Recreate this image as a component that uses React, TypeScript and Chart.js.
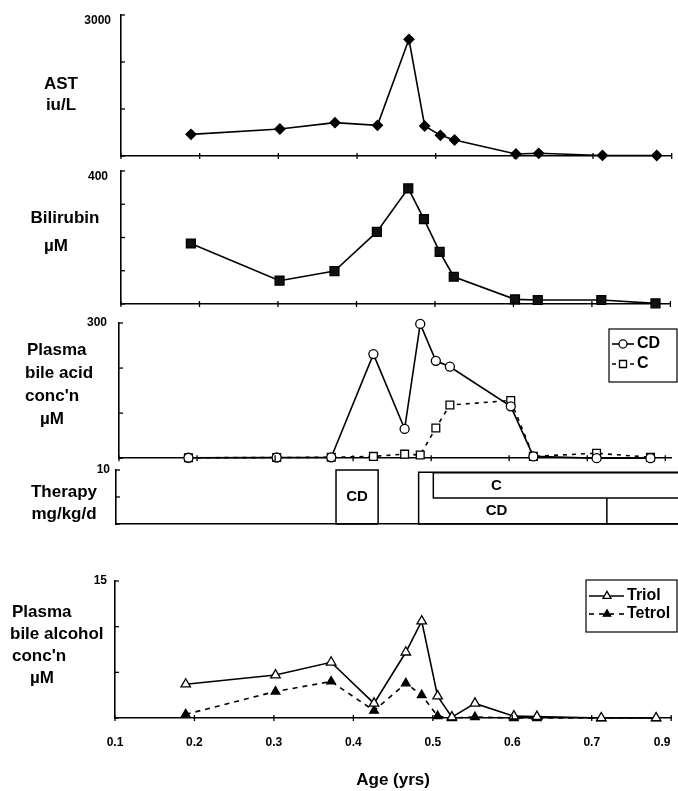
import React, { useEffect, useRef } from "react";
import { Chart, registerables } from "chart.js";

Chart.register(...registerables);

// ---------------- data ----------------
const xTickValues = [0.1, 0.2, 0.3, 0.4, 0.5, 0.6, 0.7, 0.8];
const xTickLabels = ["0.1", "0.2", "0.3", "0.4", "0.5", "0.6", "0.7", "0.9"];

const labAges = [0.189, 0.302, 0.372, 0.426, 0.466, 0.486, 0.506, 0.524, 0.602, 0.631, 0.712, 0.781];
const astValues = [461, 574, 709, 652, 2482, 638, 440, 340, 43, 57, 12, 10];
const bilirubinValues = [182, 70, 99, 217, 348, 255, 157, 82, 14, 12, 12, 2];
const bileAcidCD = [1, 1.5, 2, 231, 65, 298, 216, 203, 115, 4, 0, 0];
const bileAcidC = [1, 1.5, 2, 4, 9, 7, 67, 118, 128, 4, 11, 2];

const alcoholAges = [0.189, 0.302, 0.372, 0.426, 0.466, 0.486, 0.506, 0.524, 0.553, 0.602, 0.631, 0.712, 0.781];
const triolValues = [3.7, 4.7, 6.1, 1.6, 7.2, 10.6, 2.4, 0.1, 1.6, 0.2, 0.15, 0, 0];
const tetrolValues = [0.4, 2.9, 4.0, 0.8, 3.8, 2.5, 0.2, 0, 0.1, 0, 0, 0, 0];

const therapyDrug = ["CD", "CD", "C"];
const therapyStart = [0.377, 0.481, 0.4995];
const therapyEnd = [0.43, 0.812, 0.812];
const therapyLow = [0, 0, 4.8];
const therapyHigh = [10, 9.6, 9.5];
const therapyLabelAge = [0.4035, 0.579, 0.579];
const therapyLabelDose = [5, 2.4, 7.15];
const cdDoseChangeAge = 0.718;

// ---------------- styles ----------------
const FAMILY = "'Liberation Sans', Arial, Helvetica, sans-serif";
const LABEL_FONT = `bold 17px ${FAMILY}`;
const LEGEND_FONT = `bold 16px ${FAMILY}`;
const BOX_FONT = `bold 15px ${FAMILY}`;
const PAGE_W = 678;
const Y_AXIS_W = 60;

type TextLine = { text: string; x: number; y: number; align: CanvasTextAlign };
type Panel = {
  top: number;
  height: number;
  axisX: number;
  plotTop: number;
  plotBottom: number;
  rightEdge: number;
  xMax: number;
  yMax: number;
  yStep: number;
  yLabelOffset: number;
  yLabelPad: number;
  xTicks: boolean;
  xLabels: boolean;
  labels: TextLine[];
  legend?: { box: number[]; itemY: number[]; lineX: number[]; markerX: number; textX: number };
  therapy?: boolean;
  datasets: any[];
};

const pts = (xs: number[], ys: number[]) => xs.map((x, i) => ({ x, y: ys[i] }));

const therapyDatasets = () => {
  const ds: any[] = therapyDrug.map((drug, i) => ({
    label: drug,
    data: [
      { x: therapyEnd[i], y: therapyLow[i] },
      { x: therapyStart[i], y: therapyLow[i] },
      { x: therapyStart[i], y: therapyHigh[i] },
      { x: therapyEnd[i], y: therapyHigh[i] },
      { x: therapyEnd[i], y: therapyLow[i] },
    ],
    borderColor: "#000",
    borderWidth: 1.5,
    pointRadius: 0,
    clip: false,
    tension: 0,
  }));
  ds.push({
    label: "CD dose change",
    data: [
      { x: cdDoseChangeAge, y: 0 },
      { x: cdDoseChangeAge, y: therapyLow[2] },
    ],
    borderColor: "#000",
    borderWidth: 1.5,
    pointRadius: 0,
    clip: false,
  });
  return ds;
};

const lineStyle = { borderColor: "#000", borderWidth: 1.6, clip: false, tension: 0, pointBorderColor: "#000", pointBorderWidth: 1.3 };

const panels: Panel[] = [
  {
    top: 0, height: 163, axisX: 121, plotTop: 15, plotBottom: 156, rightEdge: 672, xMax: 0.8,
    yMax: 3000, yStep: 1000, yLabelOffset: 6, yLabelPad: 10, xTicks: true, xLabels: false,
    labels: [
      { text: "AST", x: 61, y: 84, align: "center" },
      { text: "iu/L", x: 61, y: 105, align: "center" },
    ],
    datasets: [
      { ...lineStyle, label: "AST", data: pts(labAges, astValues), pointStyle: "rectRot", pointRadius: 5, pointBackgroundColor: "#000" },
    ],
  },
  {
    top: 163, height: 149, axisX: 121, plotTop: 171, plotBottom: 304, rightEdge: 672, xMax: 0.8,
    yMax: 400, yStep: 100, yLabelOffset: 6, yLabelPad: 13, xTicks: true, xLabels: false,
    labels: [
      { text: "Bilirubin", x: 65, y: 218, align: "center" },
      { text: "µM", x: 56, y: 246, align: "center" },
    ],
    datasets: [
      { ...lineStyle, label: "Bilirubin", data: pts(labAges, bilirubinValues), pointStyle: "rect", pointRadius: 6.3, pointBackgroundColor: "#111" },
    ],
  },
  {
    top: 312, height: 153, axisX: 119, plotTop: 323, plotBottom: 459, rightEdge: 678, xMax: 0.8,
    yMax: 300, yStep: 100, yLabelOffset: 0, yLabelPad: 12, xTicks: true, xLabels: false,
    labels: [
      { text: "Plasma", x: 27, y: 350, align: "left" },
      { text: "bile acid", x: 25, y: 373, align: "left" },
      { text: "conc'n", x: 25, y: 396, align: "left" },
      { text: "µM", x: 40, y: 419, align: "left" },
    ],
    legend: { box: [609, 329, 677, 382], itemY: [344, 364], lineX: [612, 634], markerX: 623, textX: 637 },
    datasets: [
      { ...lineStyle, label: "CD", data: pts(labAges, bileAcidCD), pointStyle: "circle", pointRadius: 4.5, pointBackgroundColor: "#fff" },
      { ...lineStyle, label: "C", data: pts(labAges, bileAcidC), borderDash: [4, 5], pointStyle: "rect", pointRadius: 5.5, pointBackgroundColor: "#fff" },
    ],
  },
  {
    top: 455, height: 85, axisX: 116, plotTop: 470, plotBottom: 524, rightEdge: 678, xMax: 0.8,
    yMax: 10, yStep: 5, yLabelOffset: 0, yLabelPad: 6, xTicks: false, xLabels: false,
    labels: [
      { text: "Therapy", x: 64, y: 492, align: "center" },
      { text: "mg/kg/d", x: 64, y: 514, align: "center" },
    ],
    therapy: true,
    datasets: therapyDatasets(),
  },
  {
    top: 540, height: 251, axisX: 115, plotTop: 581, plotBottom: 718, rightEdge: 672, xMax: 0.8,
    yMax: 15, yStep: 5, yLabelOffset: 0, yLabelPad: 8, xTicks: true, xLabels: true,
    labels: [
      { text: "Plasma", x: 12, y: 612, align: "left" },
      { text: "bile alcohol", x: 10, y: 634, align: "left" },
      { text: "conc'n", x: 12, y: 656, align: "left" },
      { text: "µM", x: 30, y: 678, align: "left" },
    ],
    legend: { box: [586, 580, 677, 632], itemY: [596, 614], lineX: [589, 624], markerX: 607, textX: 627 },
    datasets: [
      { ...lineStyle, label: "Triol", data: pts(alcoholAges, triolValues), pointStyle: "triangle", pointRadius: 5.5, pointBackgroundColor: "#fff" },
      { ...lineStyle, label: "Tetrol", data: pts(alcoholAges, tetrolValues), borderDash: [5, 5], pointStyle: "triangle", pointRadius: 5, pointBackgroundColor: "#000" },
    ],
  },
];

function drawMarker(ctx: CanvasRenderingContext2D, style: string, x: number, y: number, r: number, fill: string) {
  ctx.save();
  ctx.setLineDash([]);
  ctx.beginPath();
  if (style === "circle") {
    ctx.arc(x, y, r, 0, Math.PI * 2);
  } else if (style === "rect") {
    const s = Math.SQRT1_2 * r;
    ctx.rect(x - s, y - s, 2 * s, 2 * s);
  } else if (style === "triangle") {
    ctx.moveTo(x, y - r);
    ctx.lineTo(x + r * 0.866, y + r * 0.5);
    ctx.lineTo(x - r * 0.866, y + r * 0.5);
    ctx.closePath();
  } else {
    ctx.moveTo(x, y - r);
    ctx.lineTo(x + r, y);
    ctx.lineTo(x, y + r);
    ctx.lineTo(x - r, y);
    ctx.closePath();
  }
  ctx.fillStyle = fill;
  ctx.fill();
  ctx.lineWidth = 1.3;
  ctx.strokeStyle = "#000";
  ctx.stroke();
  ctx.restore();
}

function makeDecor(p: Panel) {
  return {
    id: "decor",
    afterDraw(chart: any) {
      const ctx: CanvasRenderingContext2D = chart.ctx;
      const xs = chart.scales.x;
      const ys = chart.scales.y;
      const area = chart.chartArea;
      ctx.save();
      ctx.strokeStyle = "#000";
      ctx.fillStyle = "#000";
      ctx.lineWidth = 1.3;
      // inside y tick marks
      for (let v = 0; v <= p.yMax + 1e-9; v += p.yStep) {
        const y = ys.getPixelForValue(v);
        ctx.beginPath();
        ctx.moveTo(area.left, y);
        ctx.lineTo(area.left + 4, y);
        ctx.stroke();
      }
      // x tick marks crossing the axis
      if (p.xTicks) {
        for (const t of xTickValues) {
          const x = xs.getPixelForValue(t);
          ctx.beginPath();
          ctx.moveTo(x, area.bottom - 3);
          ctx.lineTo(x, area.bottom + 3);
          ctx.stroke();
        }
      }
      // left-hand panel titles
      ctx.font = LABEL_FONT;
      ctx.textBaseline = "middle";
      for (const l of p.labels) {
        ctx.textAlign = l.align;
        ctx.fillText(l.text, l.x, l.y - p.top);
      }
      // therapy box labels
      if (p.therapy) {
        ctx.font = BOX_FONT;
        ctx.textAlign = "center";
        therapyDrug.forEach((d, i) => {
          ctx.fillText(d, xs.getPixelForValue(therapyLabelAge[i]), ys.getPixelForValue(therapyLabelDose[i]));
        });
      }
      // legend
      if (p.legend) {
        const lg = p.legend;
        const [x1, y1, x2, y2] = lg.box;
        ctx.lineWidth = 1.2;
        ctx.strokeRect(x1, y1 - p.top, x2 - x1, y2 - y1);
        chart.data.datasets.forEach((ds: any, i: number) => {
          const y = lg.itemY[i] - p.top;
          ctx.save();
          ctx.lineWidth = 1.6;
          ctx.setLineDash(ds.borderDash || []);
          ctx.beginPath();
          ctx.moveTo(lg.lineX[0], y);
          ctx.lineTo(lg.lineX[1], y);
          ctx.stroke();
          ctx.restore();
          drawMarker(ctx, ds.pointStyle, lg.markerX, y, ds.pointRadius * (ds.pointStyle === "triangle" ? 0.85 : 0.9), ds.pointBackgroundColor);
          ctx.font = LEGEND_FONT;
          ctx.textAlign = "left";
          ctx.textBaseline = "middle";
          ctx.fillStyle = "#000";
          ctx.fillText(ds.label, lg.textX, y);
        });
      }
      ctx.restore();
    },
  };
}

function buildConfig(p: Panel): any {
  const perTenth = (p.rightEdge === 678 ? 672 - p.axisX : p.rightEdge - p.axisX) / 7;
  const xMax = p.rightEdge === 678 ? p.xMax + ((678 - 672) / perTenth) * 0.1 : p.xMax;
  const canvasBottom = p.top + p.height;
  const xScaleH = p.xLabels ? canvasBottom - p.plotBottom : 0;
  return {
    type: "line",
    data: { datasets: p.datasets },
    options: {
      animation: false,
      responsive: false,
      devicePixelRatio: 1,
      events: [],
      layout: {
        padding: {
          left: p.axisX - Y_AXIS_W,
          right: PAGE_W - (p.rightEdge === 678 ? 678 : p.rightEdge),
          top: p.plotTop - p.top,
          bottom: canvasBottom - p.plotBottom - xScaleH,
        },
      },
      plugins: { legend: { display: false }, tooltip: { enabled: false }, title: { display: false } },
      scales: {
        x: {
          type: "linear",
          min: 0.1,
          max: xMax,
          grid: { display: false, drawTicks: false, tickLength: 0 },
          border: { display: true, color: "#000", width: 1.6 },
          ticks: {
            display: p.xLabels,
            stepSize: 0.1,
            autoSkip: false,
            maxRotation: 0,
            padding: 17,
            color: "#000",
            font: { family: FAMILY, size: 12, weight: "bold" },
            callback: (v: number) => {
              const i = xTickValues.findIndex((t) => Math.abs(t - v) < 1e-6);
              if (i < 0) return "";
              // the last label sits just inside the axis end in the original
              return i === xTickLabels.length - 1 ? xTickLabels[i] + "\u2002\u2002\u2002" : xTickLabels[i];
            },
          },
          title: {
            display: p.xLabels,
            text: "Age (yrs)",
            color: "#000",
            font: { family: FAMILY, size: 17, weight: "bold" },
            padding: { top: 0, bottom: 0 },
          },
          afterFit: (s: any) => {
            s.height = xScaleH;
            s.paddingLeft = 0;
            s.paddingRight = 0;
          },
        },
        y: {
          type: "linear",
          min: 0,
          max: p.yMax,
          grid: { display: false, drawTicks: false, tickLength: 0 },
          border: { display: true, color: "#000", width: 1.6 },
          ticks: {
            stepSize: p.yStep,
            padding: p.yLabelPad,
            labelOffset: p.yLabelOffset,
            color: "#000",
            font: { family: FAMILY, size: 12, weight: "bold" },
            callback: (v: number) => (Math.abs(v - p.yMax) < 1e-9 ? String(p.yMax) : ""),
          },
          afterFit: (s: any) => {
            s.width = Y_AXIS_W;
            s.paddingTop = 0;
            s.paddingBottom = 0;
          },
        },
      },
    },
    plugins: [makeDecor(p)],
  };
}

function PanelChart({ panel }: { panel: Panel }) {
  const ref = useRef<HTMLCanvasElement | null>(null);
  useEffect(() => {
    if (!ref.current) return;
    const chart = new Chart(ref.current, buildConfig(panel));
    return () => chart.destroy();
  }, [panel]);
  return (
    <canvas
      ref={ref}
      width={PAGE_W}
      height={panel.height}
      style={{ position: "absolute", left: 0, top: panel.top, width: PAGE_W, height: panel.height, display: "block" }}
    />
  );
}

export default function App() {
  return (
    <div style={{ position: "absolute", left: 0, top: 0, width: PAGE_W, height: 791, background: "#fff", overflow: "hidden" }}>
      {panels.map((p, i) => (
        <PanelChart key={i} panel={p} />
      ))}
    </div>
  );
}
